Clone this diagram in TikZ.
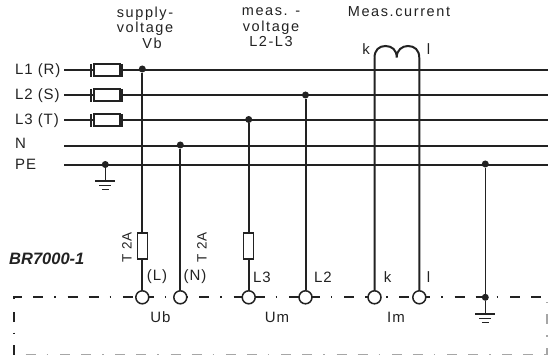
\documentclass[tikz,border=0pt]{standalone}
\usepackage{fontspec}
\setmainfont{Liberation Sans}
\newfontfamily\widefont[LetterSpace=11]{Liberation Sans}
\newfontfamily\labelfont[LetterSpace=6]{Liberation Sans}
\usetikzlibrary{positioning}
\definecolor{ink}{HTML}{222222}
\tikzset{
	wire/.style = {draw = ink, line width = 2 pt},
	thinwire/.style = {draw = ink, line width = 1.4 pt},
	terminal/.style = {circle, draw = ink, fill = white, line width = 1.5 pt, minimum size = 13 pt, inner sep = 0 pt},
	junction/.style = {circle, fill = ink, minimum size = 7 pt, inner sep = 0 pt},
	anchorpt/.style = {inner sep = 0 pt, minimum size = 0 pt},
	fusebox/.style = {rectangle, draw = ink, fill = white, line width = 1.2 pt, inner sep = 0 pt},
	label/.style = {text = ink, font = \fontsize{15}{15}\selectfont\labelfont, inner sep = 0 pt},
	head/.style = {text = ink, font = \fontsize{14.5}{15.5}\selectfont\widefont, inner sep = 0 pt, align = center},
	housing/.style = {draw = ink, line width = 2 pt, dash pattern = on 10 pt off 11 pt on 10 pt off 11 pt on 1.5 pt off 11.8 pt},
	housinglow/.style = {draw = gray!70, line width = 1.2 pt, dash pattern = on 10 pt off 11 pt on 10 pt off 11 pt on 1.5 pt off 11.8 pt}
}
\begin{document}
\begin{tikzpicture}[x = 1 pt, y = -1 pt]

	% Definitions

	\def\Tb{297.3}		% Terminal row
	\useasboundingbox (0, 0) rectangle (548, 355);

	% Housing

	\draw [housinglow, dash phase = 21 pt] (25.7, 354.5) -- (548, 354.5);
	\draw [housinglow, dash phase = 9 pt] (547, 302) -- (547, 355);
	\draw [housing] (14, 355) -- (14, 345);
	\draw [housing] (14, 322) -- (14, 312);
	\draw [housing] (14, 332.5) -- (14, 334);
	\draw [housing] (14, 299) -- (14, \Tb) -- (548, \Tb);

	% Phase conductors and fuses

	\foreach \n/\y/\t in {a/70.3/L1 (R), b/95.3/L2 (S), c/120.3/L3 (T)} {
		\node [label, anchor = west] (lab\n) at (15, \y) {\t};
		\node [anchorpt] (west\n) at (64, \y) {};
		\node [anchorpt] (east\n) at (548, \y) {};
		\draw [wire] (west\n) -- (east\n);
		\node [fusebox, minimum width = 26 pt, minimum height = 12 pt, line width = 2 pt] (fuse\n) at (106.5, \y) {};
		\draw [thinwire] (91, \y - 6.5) -- (91, \y + 6.5) (122, \y - 6.5) -- (122, \y + 6.5);
	}

	% Neutral and protective earth

	\node [label, anchor = west] (labn) at (15, 143) {N};
	\node [label, anchor = west] (labpe) at (15, 164.5) {PE};
	\node [anchorpt] (westn) at (64, 145.7) {};
	\node [anchorpt] (eastn) at (548, 145.7) {};
	\node [anchorpt] (westpe) at (64, 164.7) {};
	\node [anchorpt] (eastpe) at (548, 164.7) {};
	\draw [wire] (westn) -- (eastn);
	\draw [wire] (westpe) -- (eastpe);

	% Terminals

	\foreach \n/\x in {ul/142.3, un/180.3, uc/248.7, ub/305.5, ik/374.5, il/419.3}
		\node [terminal] (\n) at (\x, \Tb) {};

	% Tap points

	\node [junction] (tapl) at (142.3, 69) {};
	\node [junction] (tapn) at (180.3, 145) {};
	\node [junction] (tapc) at (248.7, 119.5) {};
	\node [junction] (tapb) at (305.5, 95) {};
	\node [junction] (tappe) at (105.3, 164.5) {};
	\node [junction] (tapr) at (485.3, 164) {};
	\node [junction] (tapg) at (485.3, \Tb) {};

	\draw [wire] (tapl) -- (ul);
	\draw [wire] (tapn) -- (un);
	\draw [wire] (tapc) -- (uc);
	\draw [wire] (tapb) -- (ub);
	\draw [thinwire] (tapr) -- (tapg);

	% Current loop

	\node [anchorpt] (coilk) at (374.5, 58) {};
	\node [anchorpt] (coill) at (419.3, 58) {};
	\draw [wire] (ik) -- (coilk) .. controls (374.5, 50) and (379, 46) .. (385.5, 46)
		.. controls (392, 46) and (396.7, 50) .. (396.7, 57.5)
		.. controls (396.7, 50) and (402, 46) .. (408, 46)
		.. controls (414.5, 46) and (419.3, 50) .. (coill) -- (il);

	% Supply and measuring fuses

	\node [fusebox, minimum width = 10 pt, minimum height = 26 pt] (fuseu) at (142.3, 246) {};
	\node [fusebox, minimum width = 10 pt, minimum height = 26 pt] (fusem) at (248.7, 246) {};

	% Earth symbols

	\node [anchorpt] (gnda) at (105.3, 181) {};
	\node [anchorpt] (gndb) at (485.3, 314) {};
	\draw [thinwire] (tappe) -- (gnda);
	\draw [thinwire] (tapg) -- (gndb);
	\foreach \g in {a, b} {
		\draw [thinwire] ([xshift = -10 pt] gnd\g.center) -- ([xshift = 10 pt] gnd\g.center);
		\draw [thinwire] ([xshift = -6 pt, yshift = -4.3 pt] gnd\g.center) -- ([xshift = 6 pt, yshift = -4.3 pt] gnd\g.center);
		\draw [thinwire] ([xshift = -3.5 pt, yshift = -8.5 pt] gnd\g.center) -- ([xshift = 3.5 pt, yshift = -8.5 pt] gnd\g.center);
	}

	% Texts

	\node [head] (headu) at (145, 27.5) {supply-\\voltage\\\hspace*{14 pt}Vb};
	\node [head] (headm) at (271, 27.5) {meas. -\\voltage\\L2-L3};
	\node [head] (headi) at (399, 12) {Meas.current};
	\node [label] (labk) at (366, 49) {k};
	\node [label] (labl) at (428.5, 49) {l};
	\node [label, rotate = 90, font = \fontsize{13.5}{13.5}\selectfont\labelfont] (tu) at (127, 247.5) {T 2A};
	\node [label, rotate = 90, font = \fontsize{13.5}{13.5}\selectfont\labelfont] (tn) at (202, 247.5) {T 2A};
	\node [label, font = \fontsize{16.5}{16.5}\selectfont\bfseries\itshape, anchor = west] (model) at (9, 258.5) {BR7000-1};
	\node [label] (labL) at (157, 277) {(L)};
	\node [label] (labN) at (195, 277) {(N)};
	\node [label] (labc) at (262, 277) {L3};
	\node [label] (labb) at (323, 277) {L2};
	\node [label] (labk2) at (387.5, 277) {k};
	\node [label] (labl2) at (428.5, 277) {l};
	\node [label] (labub) at (160.5, 317) {Ub};
	\node [label] (labum) at (277, 317) {Um};
	\node [label] (labim) at (396, 317) {Im};

\end{tikzpicture}
\end{document}
